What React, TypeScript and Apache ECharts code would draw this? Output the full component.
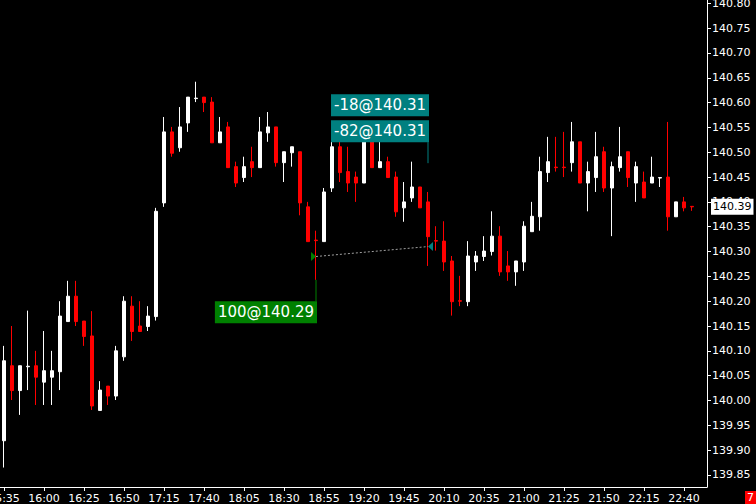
import React, { useEffect, useRef } from "react";
import * as echarts from "echarts";

// ---- data (M5 bars, 15:35 .. 22:45) ----
const startHour = 15;
const startMinute = 35;
const stepMinutes = 5;
const emptySlots = 1;

const opens = [
  139.919, 140.070, 140.020, 140.068, 140.070, 140.037, 140.047, 140.058, 140.159, 140.210,
  140.160, 140.130, 139.980, 140.029, 140.009, 140.088, 140.190, 140.150, 140.149, 140.169,
  140.398, 140.541, 140.509, 140.559, 140.608, 140.611, 140.601, 140.519, 140.551, 140.471,
  140.449, 140.481, 140.469, 140.539, 140.551, 140.479, 140.499, 140.501, 140.390, 140.323,
  140.320, 140.428, 140.511, 140.461, 140.450, 140.438, 140.525, 140.469, 140.481, 140.450,
  140.388, 140.408, 140.430, 140.400, 140.322, 140.321, 140.281, 140.201, 140.199, 140.279,
  140.290, 140.300, 140.331, 140.271, 140.259, 140.279, 140.340, 140.370, 140.459, 140.470,
  140.470, 140.479, 140.521, 140.438, 140.449, 140.501, 140.428, 140.469, 140.501, 140.438,
  140.440, 140.438, 140.448, 140.450, 140.370, 140.400, 140.391,
];
const closes = [
  140.080, 140.020, 140.070, 140.069, 140.047, 140.060, 140.060, 140.170, 140.210, 140.159,
  140.129, 139.989, 140.021, 140.009, 140.100, 140.200, 140.139, 140.139, 140.170, 140.381,
  140.541, 140.498, 140.551, 140.611, 140.609, 140.600, 140.519, 140.541, 140.469, 140.438,
  140.471, 140.469, 140.541, 140.551, 140.479, 140.501, 140.511, 140.398, 140.320, 140.322,
  140.420, 140.511, 140.459, 140.438, 140.438, 140.521, 140.469, 140.481, 140.449, 140.380,
  140.400, 140.430, 140.388, 140.330, 140.321, 140.279, 140.199, 140.200, 140.291, 140.291,
  140.301, 140.331, 140.259, 140.259, 140.281, 140.351, 140.371, 140.461, 140.481, 140.469,
  140.469, 140.521, 140.438, 140.461, 140.491, 140.428, 140.471, 140.491, 140.449, 140.471,
  140.408, 140.450, 140.449, 140.370, 140.400, 140.388, 140.390,
];
const lows = [
  139.865, 140.001, 139.971, 140.021, 139.991, 139.991, 139.991, 140.021, 140.159, 140.150,
  140.110, 139.981, 139.980, 139.991, 140.001, 140.080, 140.120, 140.139, 140.140, 140.161,
  140.390, 140.491, 140.501, 140.541, 140.601, 140.581, 140.519, 140.519, 140.469, 140.430,
  140.440, 140.450, 140.469, 140.521, 140.471, 140.440, 140.471, 140.373, 140.320, 140.243,
  140.320, 140.420, 140.440, 140.420, 140.400, 140.438, 140.469, 140.469, 140.449, 140.370,
  140.360, 140.400, 140.388, 140.271, 140.302, 140.261, 140.171, 140.190, 140.190, 140.261,
  140.281, 140.292, 140.251, 140.241, 140.231, 140.261, 140.340, 140.342, 140.440, 140.461,
  140.450, 140.461, 140.438, 140.381, 140.420, 140.420, 140.331, 140.461, 140.430, 140.400,
  140.408, 140.438, 140.430, 140.342, 140.370, 140.381, 140.382,
];
const highs = [
  140.110, 140.150, 140.070, 140.181, 140.100, 140.140, 140.100, 140.200, 140.241, 140.241,
  140.160, 140.180, 140.039, 140.029, 140.110, 140.210, 140.210, 140.200, 140.190, 140.388,
  140.571, 140.551, 140.591, 140.611, 140.642, 140.611, 140.611, 140.571, 140.561, 140.481,
  140.491, 140.511, 140.571, 140.581, 140.551, 140.501, 140.511, 140.501, 140.400, 140.342,
  140.428, 140.525, 140.525, 140.511, 140.461, 140.530, 140.540, 140.521, 140.491, 140.461,
  140.440, 140.481, 140.430, 140.420, 140.351, 140.361, 140.291, 140.251, 140.321, 140.301,
  140.331, 140.381, 140.351, 140.301, 140.281, 140.361, 140.400, 140.491, 140.531, 140.531,
  140.541, 140.561, 140.521, 140.481, 140.541, 140.511, 140.481, 140.551, 140.501, 140.481,
  140.461, 140.491, 140.449, 140.561, 140.400, 140.410, 140.391,
];

const yTicks = [
  139.85, 139.9, 139.95, 140.0, 140.05, 140.1, 140.15, 140.2, 140.25, 140.3,
  140.35, 140.4, 140.45, 140.5, 140.55, 140.6, 140.65, 140.7, 140.75, 140.8,
];
const yMin = 139.8258;
const yMax = 140.8066;

const lastPrice = 140.39;
const lastPriceText = "140.39";

const entryIndex = 39;
const entryPrice = 140.29;
const entryLabel = "100@140.29";
const entryLabelTopPrice = 140.2;

const exitIndex = 53;
const exitPrice = 140.31;
const exitLabels = ["-18@140.31", "-82@140.31"];
const exitLabelTopPrice = 140.617;
const exitLineEndPrice = 140.478;

const cornerText = "7";

const GREEN = "#008000";
const TEAL = "#008080";

function buildCategories(): string[] {
  const out: string[] = [];
  const n = opens.length + emptySlots;
  for (let i = 0; i < n; i++) {
    const t = startHour * 60 + startMinute + i * stepMinutes;
    const h = Math.floor(t / 60) % 24;
    const m = t % 60;
    out.push(`${h}:${m < 10 ? "0" + m : m}`);
  }
  return out;
}

export default function App() {
  const ref = useRef<HTMLDivElement>(null);

  useEffect(() => {
    if (!ref.current) return;
    const chart = echarts.init(ref.current, null, { renderer: "svg" });
    const categories = buildCategories();
    const data = opens.map((o, i) => [o, closes[i], lows[i], highs[i]]);
    const font = "DejaVu Sans";

    chart.setOption({
      animation: false,
      backgroundColor: "#000000",
      textStyle: { fontFamily: font },
      grid: [
        { left: 0, top: 0, width: 704, height: 487, containLabel: false, outerBoundsMode: "none" },
        { left: 0, top: 0, width: 707, height: 487, containLabel: false, outerBoundsMode: "none" },
      ],
      xAxis: [
        {
          type: "category",
          gridIndex: 0,
          data: categories,
          boundaryGap: true,
          axisLine: { show: false, onZero: false },
          axisTick: {
            show: true,
            interval: 4,
            alignWithLabel: true,
            length: 4,
            lineStyle: { color: "#ffffff" },
          },
          axisLabel: {
            interval: 4,
            color: "#ffffff",
            fontSize: 11,
            fontFamily: font,
            margin: 6,
          },
          splitLine: { show: false },
        },
        {
          type: "value",
          gridIndex: 1,
          min: 0,
          max: 1,
          axisLine: { show: true, onZero: false, lineStyle: { color: "#ffffff" } },
          axisTick: { show: false },
          axisLabel: { show: false },
          splitLine: { show: false },
        },
      ],
      yAxis: [
        { type: "value", gridIndex: 0, min: yMin, max: yMax, show: false, splitLine: { show: false } },
        {
          type: "value",
          gridIndex: 1,
          position: "right",
          min: yMin,
          max: yMax,
          axisLine: { show: true, onZero: false, lineStyle: { color: "#ffffff" } },
          axisTick: {
            show: true,
            length: 4,
            customValues: yTicks,
            lineStyle: { color: "#ffffff" },
          },
          axisLabel: {
            color: "#ffffff",
            fontSize: 11,
            fontFamily: font,
            margin: 5,
            customValues: yTicks,
            formatter: (v: number) => v.toFixed(2),
          },
          splitLine: { show: false },
        },
      ],
      series: [
        {
          type: "candlestick",
          xAxisIndex: 0,
          yAxisIndex: 0,
          data,
          barWidth: 4,
          itemStyle: {
            color: "#ffffff",
            color0: "#ff0000",
            borderColor: "#ffffff",
            borderColor0: "#ff0000",
            borderWidth: 1,
          },
        },
      ],
    });

    const px = (i: number, p: number) =>
      chart.convertToPixel({ gridIndex: 0 }, [i, p]) as number[];
    const ypx = (p: number) => px(0, p)[1];

    const entryPt = px(entryIndex, entryPrice);
    const exitPt = px(exitIndex, exitPrice);
    const entryLowY = ypx(lows[entryIndex]);
    const entryLabelTop = ypx(entryLabelTopPrice);
    const exitLabelTop = ypx(exitLabelTopPrice);
    const exitLineEnd = ypx(exitLineEndPrice);
    const lastY = ypx(lastPrice);
    const labelH = 22;
    const labelGap = 4;

    const labelStyle = (text: string, bg: string, x: number, y: number) => ({
      type: "text",
      z: 20,
      style: {
        text,
        x,
        y,
        align: "right",
        verticalAlign: "top",
        fill: "#ffffff",
        fontSize: 15,
        fontFamily: font,
        lineHeight: 16,
        backgroundColor: bg,
        padding: [3, 3, 3, 3],
      },
    });

    const graphics: any[] = [
      {
        type: "line",
        z: 15,
        shape: { x1: entryPt[0], y1: entryPt[1], x2: exitPt[0], y2: exitPt[1] },
        style: { stroke: "#a0a0a0", lineWidth: 1, lineDash: [2, 2] },
      },
      {
        type: "polygon",
        z: 16,
        shape: {
          points: [
            [entryPt[0] - 5, entryPt[1] - 4.5],
            [entryPt[0], entryPt[1]],
            [entryPt[0] - 5, entryPt[1] + 4.5],
          ],
        },
        style: { fill: GREEN },
      },
      {
        type: "polygon",
        z: 16,
        shape: {
          points: [
            [exitPt[0], exitPt[1]],
            [exitPt[0] + 5, exitPt[1] - 4.5],
            [exitPt[0] + 5, exitPt[1] + 4.5],
          ],
        },
        style: { fill: TEAL },
      },
      {
        type: "line",
        z: 15,
        shape: { x1: entryPt[0], y1: entryLowY, x2: entryPt[0], y2: entryLabelTop },
        style: { stroke: GREEN, lineWidth: 1 },
      },
      labelStyle(entryLabel, GREEN, entryPt[0] + 1, entryLabelTop),
      {
        type: "line",
        z: 15,
        shape: {
          x1: exitPt[0],
          y1: exitLabelTop + exitLabels.length * labelH + (exitLabels.length - 1) * labelGap,
          x2: exitPt[0],
          y2: exitLineEnd,
        },
        style: { stroke: TEAL, lineWidth: 1 },
      },
      ...exitLabels.map((t, k) =>
        labelStyle(t, TEAL, exitPt[0] + 1, exitLabelTop + k * (labelH + labelGap))
      ),
      {
        type: "text",
        z: 20,
        style: {
          text: lastPriceText,
          x: 711,
          y: lastY,
          align: "left",
          verticalAlign: "middle",
          fill: "#000000",
          fontSize: 11,
          fontFamily: font,
          lineHeight: 13,
          backgroundColor: "#ffffff",
          padding: [2, 2, 1, 2],
        },
      },
      {
        type: "rect",
        z: 20,
        shape: { x: 745, y: 491, width: 14, height: 14 },
        style: { fill: "#ff0000" },
      },
      {
        type: "text",
        z: 21,
        style: {
          text: cornerText,
          x: 747,
          y: 492,
          fill: "#ffffff",
          fontSize: 11,
          fontFamily: font,
          verticalAlign: "top",
        },
      },
    ];

    chart.setOption({ graphic: graphics });

    return () => chart.dispose();
  }, []);

  return (
    <div
      ref={ref}
      style={{ position: "absolute", left: 0, top: 0, width: 756, height: 504, background: "#000" }}
    />
  );
}
